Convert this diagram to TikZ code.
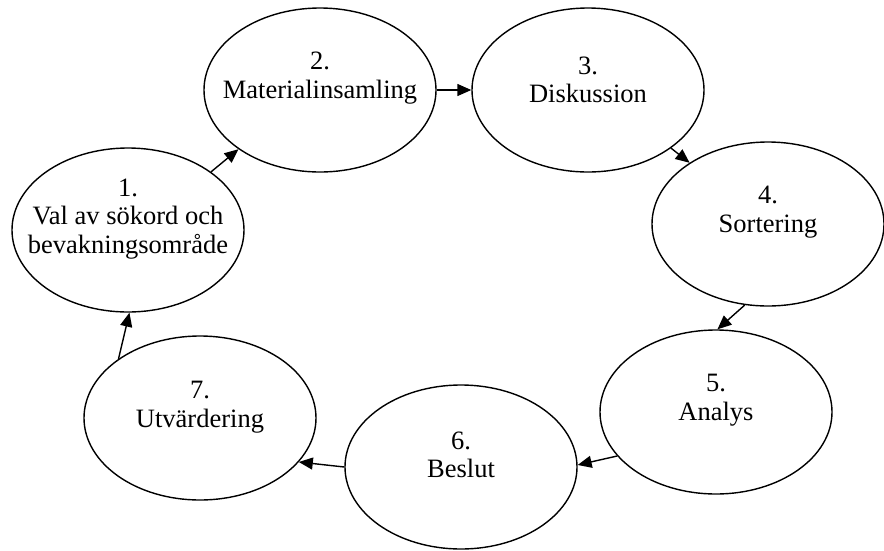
\documentclass[tikz,border=0pt]{standalone}
\usepackage{fontspec}
\setmainfont{Liberation Serif}
\usepackage{tikz}
\usetikzlibrary{arrows.meta,positioning,shapes.geometric}

\begin{document}
\begin{tikzpicture}[
  x=1pt, y=-1pt,
  stage/.style={ellipse, draw, line width=1.4pt, minimum width=232pt, minimum height=164pt, inner sep=0pt},
  txt/.style={font=\fontsize{26.5}{28.5}\selectfont, align=center, inner sep=0pt},
  arrow/.style={-{Triangle[length=14pt,width=12pt]}, line width=1.4pt}
]
\useasboundingbox (0,0) rectangle (884,550);

% Stage 1: keywords
\node[stage] (s1) at (128,230) {};
\node[txt] (t1) at ([yshift=11pt]s1.center) {1.\\Val av sökord och\\bevakningsområde};

% Stage 2: collecting
\node[stage] (s2) at (320,90) {};
\node[txt] (t2) at ([yshift=12pt]s2.center) {2.\\Materialinsamling};

% Stage 3: discussion
\node[stage] (s3) at (588,90) {};
\node[txt] (t3) at ([yshift=10pt]s3.center) {3.\\Diskussion};

% Stage 4: sorting
\node[stage] (s4) at (768,224) {};
\node[txt] (t4) at ([yshift=12pt]s4.center) {4.\\Sortering};

% Stage 5: analysis
\node[stage] (s5) at (716,412) {};
\node[txt] (t5) at ([yshift=12pt]s5.center) {5.\\Analys};

% Stage 6: decision
\node[stage] (s6) at (461,467) {};
\node[txt] (t6) at ([yshift=12pt]s6.center) {6.\\Beslut};

% Stage 7: evaluation
\node[stage] (s7) at (200,418) {};
\node[txt] (t7) at ([yshift=11pt]s7.center) {7.\\Utvärdering};

% Cycle arrows
\draw[arrow] (s1.35) -- (s2.216);
\draw[arrow] (s2.east) -- (s3.west);
\draw[arrow] (s3.325) -- (s4.142);
\draw[arrow] (s4.254) -- (s5.89);
\draw[arrow] (s5.204) -- (s6.1);
\draw[arrow] (s6.west) -- (s7.336);
\draw[arrow] (s7.144) -- (s1.271);

\end{tikzpicture}
\end{document}
